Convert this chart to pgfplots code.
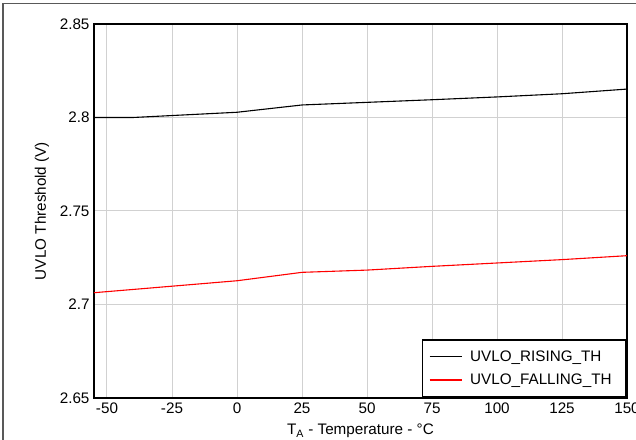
\documentclass[border=0pt]{standalone}
\usepackage{pgfplots}
\pgfplotsset{compat=1.18}
\usepackage{fontspec}
\setmainfont{Liberation Sans}
\begin{document}
\begin{tikzpicture}
\path[use as bounding box] (-94bp,-42bp) rectangle (542bp,398bp);
\draw[gray!70!black, line width=1.2bp] (-91bp,-50bp) -- (-91bp,394.5bp) -- (560bp,394.5bp);
\begin{axis}[
  at={(0,0)}, anchor=south west,
  scale only axis, width=533bp, height=374bp,
  xmin=-55, xmax=150, ymin=2.65, ymax=2.85,
  xtick={-50,-25,0,25,50,75,100,125,150},
  ytick={2.65,2.7,2.75,2.8,2.85},
  yticklabels={2.65,2.7,2.75,2.8,2.85},
  major tick length=0pt,
  grid=major,
  major grid style={draw=black!18, line width=1bp},
  axis line style={line width=1.8bp},
  tick label style={font=\fontsize{15.3}{17}\selectfont},
  /pgf/number format/assume math mode=true,
  xticklabel style={yshift=-1bp},
  yticklabel style={xshift=-1bp},
  label style={font=\fontsize{15.3}{17}\selectfont},
  xlabel={T\textsubscript{A} - Temperature - °C},
  ylabel={UVLO Threshold (V)},
  xlabel style={yshift=-4bp},
  ylabel style={yshift=4bp},
  legend style={at={(rel axis cs:1,0)}, anchor=south east, draw=black, line width=1.8bp,
    font=\fontsize{15.3}{17}\selectfont, inner xsep=6.5bp, inner ysep=11bp,
    row sep=11bp,
    nodes={inner xsep=8bp, inner ysep=0pt}},
  legend cell align=left,
  legend image code/.code={\draw[#1, line width=1.1bp] (0bp,0bp) -- (32bp,0bp);},
]
\addplot[black, line width=1.1bp] coordinates {
(-55,2.8000) (-40,2.8000) (0,2.8028) (25,2.8067) (50,2.8081) (75,2.8095) (100,2.8110) (125,2.8127) (150,2.8152)};
\addlegendentry{UVLO\_RISING\_TH}
\addplot[red, line width=1.1bp] coordinates {
(-55,2.7063) (0,2.7127) (25,2.7172) (50,2.7184) (75,2.7204) (100,2.7222) (125,2.7240) (150,2.7261)};
\addlegendentry{UVLO\_FALLING\_TH}
\end{axis}
\end{tikzpicture}
\end{document}
